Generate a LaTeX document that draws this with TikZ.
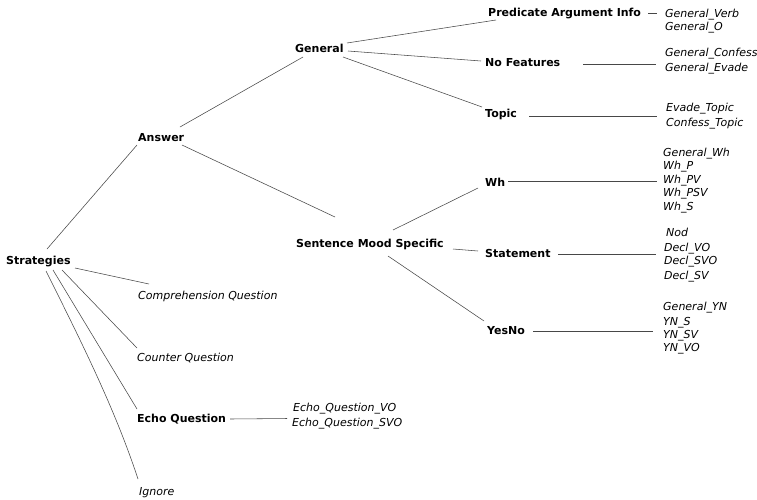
\documentclass[tikz,border=0pt]{standalone}
\usepackage{fontspec}
\setmainfont{DejaVu Sans}
\begin{document}
\begin{tikzpicture}[x=1pt,y=-1pt,
  every node/.style={inner sep=0pt,anchor=base west,font=\fontsize{11}{13}\selectfont},
  cat/.style={font=\fontsize{11}{13}\selectfont\bfseries},
  leaf/.style={font=\fontsize{11}{13}\selectfont\itshape},
  conn/.style={draw=black!72,line width=0.55pt}]
\useasboundingbox (0,0) rectangle (757,499);

% inner categories
\node[cat] (s)    at (6,264)     {Strategies};
\node[cat] (ans)  at (138,141)   {Answer};
\node[cat] (gen)  at (295,52)    {General};
\node[cat] (sms)  at (296,247)   {Sentence Mood Specific};
\node[cat] (pai)  at (488,16.5)  {Predicate Argument Info};
\node[cat] (nof)  at (485,66.5)  {No Features};
\node[cat] (top)  at (485,117.3) {Topic};
\node[cat] (wh)   at (485,186.5) {Wh};
\node[cat] (stm)  at (485,257.5) {Statement};
\node[cat] (yn)   at (487,334)   {YesNo};
\node[cat] (echo) at (137,422)   {Echo Question};

% strategies without sub-categories
\node[leaf] (comp) at (138,299) {Comprehension Question};
\node[leaf] (cnt)  at (137,361) {Counter Question};
\node[leaf] (ign)  at (139,495) {Ignore};

% leaf lists
\node[leaf] (pai1) at (665,17)    {General\_Verb};
\node[leaf] (pai2) at (665,30.7)  {General\_O};
\node[leaf] (nof1) at (665,56.5)  {General\_Confess};
\node[leaf] (nof2) at (665,71)    {General\_Evade};
\node[leaf] (top1) at (666,111)   {Evade\_Topic};
\node[leaf] (top2) at (666,126)   {Confess\_Topic};
\node[leaf] (wh1)  at (663,156.7) {General\_Wh};
\node[leaf] (wh2)  at (663,169.7) {Wh\_P};
\node[leaf] (wh3)  at (663,183.3) {Wh\_PV};
\node[leaf] (wh4)  at (663,196.7) {Wh\_PSV};
\node[leaf] (wh5)  at (663,210)   {Wh\_S};
\node[leaf] (st1)  at (666,236.7) {Nod};
\node[leaf] (st2)  at (664,251)   {Decl\_VO};
\node[leaf] (st3)  at (664,264.5) {Decl\_SVO};
\node[leaf] (st4)  at (664,279.3) {Decl\_SV};
\node[leaf] (yn1)  at (663,310.7) {General\_YN};
\node[leaf] (yn2)  at (663,325)   {YN\_S};
\node[leaf] (yn3)  at (663,338.5) {YN\_SV};
\node[leaf] (yn4)  at (663,351.7) {YN\_VO};
\node[leaf] (eq1)  at (293,411.7) {Echo\_Question\_VO};
\node[leaf] (eq2)  at (292,426.7) {Echo\_Question\_SVO};

% ends of the lines that lead into the leaf lists
\coordinate (paiE) at (657,13);
\coordinate (nofE) at (656,64);
\coordinate (topE) at (657,116);
\coordinate (whE)  at (657,181);
\coordinate (stmE) at (656,254);
\coordinate (ynE)  at (653,331);
\coordinate (echoE) at (287,418.5);

% tree edges
\draw[conn] ([shift={(41,-15)}]s.base west) -- ([shift={(-1,4)}]ans.base west);
\draw[conn] ([shift={(69,4)}]s.base west)   -- ([shift={(11,-15)}]comp.base west);
\draw[conn] ([shift={(56,6)}]s.base west)   -- ([shift={(0,-13)}]cnt.base west);
\draw[conn] ([shift={(47,6)}]s.base west)   -- ([shift={(0,-13)}]echo.base west);
\draw[conn] ([shift={(40,7)}]s.base west)
  .. controls ([shift={(75,77)}]s.base west) and ([shift={(-24,-86)}]ign.base west)
  .. ([shift={(-1,-16)}]ign.base west);

\draw[conn] ([shift={(42,-14)}]ans.base west) -- ([shift={(8,5)}]gen.base west);
\draw[conn] ([shift={(44,4)}]ans.base west)   -- ([shift={(39,-30)}]sms.base west);

\draw[conn] ([shift={(52,-9)}]gen.base west) -- ([shift={(8,3.5)}]pai.base west);
\draw[conn] ([shift={(53,-1)}]gen.base west) -- ([shift={(-4,-5.5)}]nof.base west);
\draw[conn] ([shift={(48,5)}]gen.base west)  -- ([shift={(-3,-10.3)}]top.base west);

\draw[conn] ([shift={(97,-17)}]sms.base west) -- ([shift={(-7,1.5)}]wh.base west);
\draw[conn] ([shift={(157,2)}]sms.base west)  -- ([shift={(-7,-6.5)}]stm.base west);
\draw[conn] ([shift={(92,9)}]sms.base west)   -- ([shift={(-3,-13)}]yn.base west);

% lines into the leaf lists
\draw[conn] ([shift={(160,-3.5)}]pai.base west) -- (paiE);
\draw[conn] ([shift={(98,-2.5)}]nof.base west)  -- (nofE);
\draw[conn] ([shift={(44,-1.3)}]top.base west)  -- (topE);
\draw[conn] ([shift={(23,-5.5)}]wh.base west)   -- (whE);
\draw[conn] ([shift={(73,-3.5)}]stm.base west)  -- (stmE);
\draw[conn] ([shift={(46,-3)}]yn.base west)     -- (ynE);
\draw[conn] ([shift={(93,-3)}]echo.base west)   -- (echoE);
\end{tikzpicture}
\end{document}
